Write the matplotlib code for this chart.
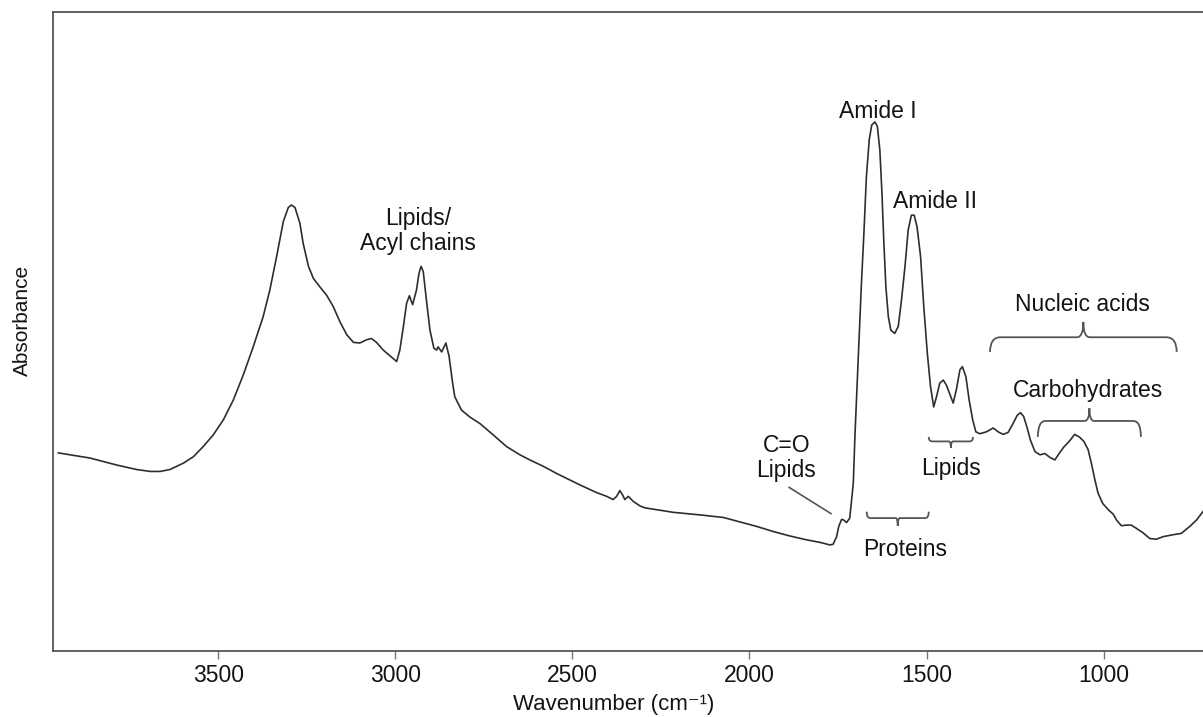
import matplotlib
matplotlib.use("Agg")
import matplotlib.pyplot as plt
from matplotlib.path import Path
from matplotlib.patches import PathPatch

plt.rcParams['font.family'] = ['Liberation Sans', 'DejaVu Sans']

# ---- data: FTIR spectrum (wavenumber in cm-1, absorbance arbitrary units) ----
wavenumber = [3951, 3862, 3786, 3730, 3692, 3664, 3636, 3598, 3570, 3542,
              3514, 3485, 3457, 3429, 3401, 3373, 3354, 3335, 3316, 3302,
              3293, 3283, 3269, 3260, 3245, 3231, 3213, 3194, 3175, 3156,
              3137, 3118, 3100, 3081, 3067, 3053, 3034, 3015, 2996, 2987,
              2977, 2968, 2960, 2951, 2940, 2933, 2927, 2921, 2912, 2902,
              2891, 2883, 2879, 2869, 2857, 2848, 2838, 2832, 2813, 2789,
              2761, 2723, 2686, 2648, 2620, 2582, 2545, 2479, 2432, 2403,
              2385, 2375, 2366, 2358, 2352, 2342, 2328, 2309, 2295, 2215,
              2140, 2074, 2027, 1980, 1933, 1886, 1839, 1801, 1773, 1764,
              1754, 1748, 1740, 1734, 1726, 1717, 1707, 1702, 1696, 1690,
              1684, 1677, 1670, 1662, 1655, 1646, 1639, 1632, 1626, 1621,
              1615, 1608, 1601, 1590, 1580, 1571, 1561, 1552, 1543, 1535,
              1527, 1517, 1508, 1498, 1489, 1480, 1472, 1463, 1453, 1444,
              1434, 1425, 1416, 1406, 1399, 1389, 1380, 1370, 1361, 1350,
              1331, 1312, 1298, 1284, 1270, 1256, 1244, 1235, 1226, 1216,
              1207, 1194, 1180, 1166, 1152, 1138, 1126, 1113, 1096, 1082,
              1069, 1056, 1044, 1035, 1025, 1016, 1003, 987, 973, 964,
              950, 936, 922, 908, 889, 870, 851, 832, 804, 781,
              757, 738, 720, 705]
absorbance = [0.310, 0.302, 0.291, 0.284, 0.281, 0.281, 0.284, 0.294, 0.304, 0.320,
              0.338, 0.362, 0.393, 0.432, 0.476, 0.523, 0.565, 0.617, 0.672, 0.694,
              0.698, 0.694, 0.669, 0.638, 0.602, 0.583, 0.570, 0.557, 0.539, 0.515,
              0.495, 0.483, 0.482, 0.487, 0.489, 0.483, 0.471, 0.462, 0.453, 0.471,
              0.508, 0.544, 0.556, 0.542, 0.565, 0.591, 0.602, 0.594, 0.549, 0.502,
              0.474, 0.471, 0.476, 0.468, 0.482, 0.461, 0.419, 0.398, 0.377, 0.366,
              0.356, 0.338, 0.320, 0.307, 0.299, 0.289, 0.278, 0.260, 0.248, 0.242,
              0.237, 0.242, 0.251, 0.244, 0.237, 0.242, 0.234, 0.227, 0.224, 0.217,
              0.213, 0.209, 0.202, 0.195, 0.187, 0.180, 0.174, 0.170, 0.166, 0.167,
              0.179, 0.195, 0.206, 0.205, 0.201, 0.208, 0.262, 0.341, 0.419, 0.497,
              0.575, 0.654, 0.742, 0.800, 0.823, 0.828, 0.821, 0.784, 0.716, 0.643,
              0.570, 0.523, 0.502, 0.497, 0.508, 0.549, 0.602, 0.659, 0.682, 0.682,
              0.664, 0.617, 0.539, 0.466, 0.414, 0.382, 0.398, 0.419, 0.424, 0.416,
              0.401, 0.388, 0.409, 0.440, 0.445, 0.429, 0.393, 0.362, 0.343, 0.340,
              0.343, 0.349, 0.343, 0.339, 0.342, 0.356, 0.369, 0.373, 0.367, 0.349,
              0.330, 0.312, 0.307, 0.309, 0.303, 0.299, 0.309, 0.319, 0.329, 0.339,
              0.335, 0.328, 0.315, 0.294, 0.268, 0.247, 0.231, 0.221, 0.214, 0.205,
              0.196, 0.197, 0.197, 0.192, 0.185, 0.176, 0.175, 0.179, 0.182, 0.184,
              0.195, 0.205, 0.218, 0.232]

x_ticks = [3500, 3000, 2500, 2000, 1500, 1000]

# labels: (text, wavenumber, absorbance of last-line baseline)
peak_labels = [
    ("Lipids/\nAcyl chains", 2936, 0.628),
    ("Amide I", 1638, 0.834),
    ("Amide II", 1477, 0.693),
    ("Nucleic acids", 1061, 0.532),
    ("Carbohydrates", 1044, 0.398),
    ("C=O\nLipids", 1896, 0.273),
    ("Lipids", 1430, 0.275),
    ("Proteins", 1561, 0.149),
]
# braces: (x_start, x_end, y_line, y_ends, y_tip, corner)
braces = [
    (1321, 794, 0.491, 0.468, 0.515, 30),
    (1186, 895, 0.360, 0.335, 0.380, 22),
    (1494, 1369, 0.328, 0.335, 0.318, 10),
    (1669, 1494, 0.208, 0.218, 0.196, 10),
]

TEXT = '#141414'
GRAY = '#555555'

fig = plt.figure(figsize=(12.03, 7.17), dpi=100)
ax = fig.add_axes([52.7 / 1203, 66 / 717, (1210 - 52.7) / 1203, 639 / 717])

ax.plot(wavenumber, absorbance, color='#2e2e2e', lw=1.2, solid_joinstyle='round')

ax.set_xlim(3967, 700)
ax.set_ylim(0, 1)
ax.set_xticks(x_ticks)
ax.set_yticks([])
ax.tick_params(axis='x', direction='out', length=6, width=1.0, color='#777777',
               labelsize=16.5, labelcolor=TEXT, pad=3)
for side in ['left', 'top', 'bottom']:
    ax.spines[side].set_color(GRAY)
    ax.spines[side].set_linewidth(1.3)
ax.spines['right'].set_visible(False)

ax.set_xlabel('Wavenumber (cm\u207b\u00b9)', fontsize=16, color=TEXT, va='bottom')
ax.xaxis.set_label_coords(0.485, -0.1002)
ax.set_ylabel('Absorbance', fontsize=15, color=TEXT, va='center', ha='center')
ax.yaxis.set_label_coords(-0.0265, 0.518)

for txt, xw, yb in peak_labels:
    ax.text(xw, yb, txt, ha='center', va='baseline', fontsize=16.5, color=TEXT,
            linespacing=1.1)

# pointer line for C=O
ax.plot([1888, 1770], [0.256, 0.215], color=GRAY, lw=1.2)


def brace(x1, x2, yl, ye, yt, r):
    d = 1 if x2 > x1 else -1
    xm = (x1 + x2) / 2
    r2 = r * 0.6
    verts = [(x1, ye), (x1, yl), (x1 + d * r, yl),
             (xm - d * r2, yl),
             (xm, yl), (xm, yt),
             (xm, yl), (xm + d * r2, yl),
             (x2 - d * r, yl),
             (x2, yl), (x2, ye)]
    codes = [Path.MOVETO, Path.CURVE3, Path.CURVE3,
             Path.LINETO,
             Path.CURVE3, Path.CURVE3,
             Path.CURVE3, Path.CURVE3,
             Path.LINETO,
             Path.CURVE3, Path.CURVE3]
    ax.add_patch(PathPatch(Path(verts, codes), fill=False, edgecolor=GRAY, lw=1.3))


for b in braces:
    brace(*b)

fig.savefig('out.png', dpi=100)
